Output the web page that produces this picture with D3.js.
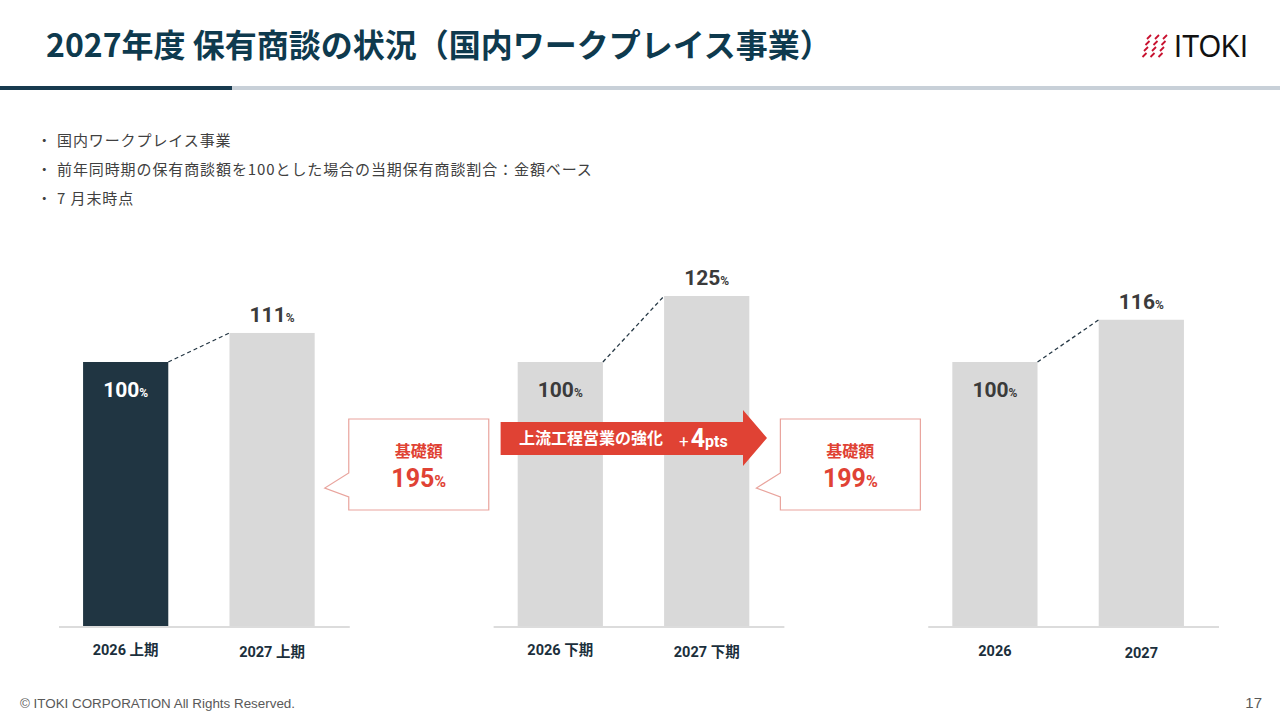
<!DOCTYPE html>
<html><head><meta charset="utf-8">
<script src="https://cdn.jsdelivr.net/npm/d3@7"></script>
<style>
html,body{margin:0;padding:0;background:#fff;}
svg{display:block;}
</style></head>
<body>
<svg id="chart" width="1280" height="720"></svg>
<script>
// ---------------- data ----------------
const titleText = "2027年度 保有商談の状況（国内ワークプレイス事業）";
const bullets = ["国内ワークプレイス事業", "前年同時期の保有商談額を100とした場合の当期保有商談割合：金額ベース", "7 月末時点"];
const groups = ["上期", "下期", "通期"];
const categories = ["2026 上期", "2027 上期", "2026 下期", "2027 下期", "2026", "2027"];
const values = [100, 111, 100, 125, 100, 116];
const groupOf = [0, 0, 1, 1, 2, 2];
const positionInGroup = [0, 1, 0, 1, 0, 1];
const calloutLabel = "基礎額";
const calloutValues = [195, 199];
const arrowLabel = "上流工程営業の強化";
const arrowValue = "4";
const arrowUnit = "pts";
const footerText = "© ITOKI CORPORATION All Rights Reserved.";
const pageNumber = "17";

// ---------------- layout ----------------
const svg = d3.select("#chart");
const CJK = "'Noto Sans CJK JP','Noto Sans',sans-serif";
const NUM = "Roboto,'Noto Sans CJK JP',sans-serif";
const RED = "#e04234";
const DARK = "#203542";
const GRAY = "#d9d9d9";

// title
svg.append("text").attr("x", 46).attr("y", 57)
  .attr("font-family", CJK).attr("font-weight", 700).attr("font-size", 32)
  .attr("fill", "#0e3a4e").text(titleText);

// header rule
svg.append("rect").attr("x", 0).attr("y", 86).attr("width", 1280).attr("height", 4).attr("fill", "#c8d0d8");
svg.append("rect").attr("x", 0).attr("y", 86).attr("width", 232).attr("height", 4).attr("fill", "#173a4f");

// logo
const logo = svg.append("g");
for (let r = 0; r < 4; r++) {
  for (let c = 0; c < 3; c++) {
    const x0 = 1147 + c * 8 - r * 1.5, y0 = 39 + r * 6;
    logo.append("line").attr("x1", x0).attr("y1", y0).attr("x2", x0 + 4).attr("y2", y0 - 4)
      .attr("stroke", "#c8102e").attr("stroke-width", 1.8);
  }
}
logo.append("text").attr("x", 1174).attr("y", 57)
  .attr("font-family", "'Liberation Sans',Arial,sans-serif").attr("font-size", 32)
  .attr("textLength", 74).attr("lengthAdjust", "spacingAndGlyphs")
  .attr("fill", "#111").text("ITOKI");

// bullets
bullets.forEach((b, i) => {
  const y = 146 + i * 29;
  svg.append("text").attr("x", 37).attr("y", y).attr("font-family", CJK).attr("font-size", 14.5).attr("fill", "#404040").text("・");
  svg.append("text").attr("x", 57).attr("y", y).attr("font-family", CJK).attr("font-size", 15)
    .attr("letter-spacing", 0.9).attr("fill", "#404040").text(b);
});

// scales
const xGroup = d3.scaleBand().domain(d3.range(groups.length)).range([59, 1219]).paddingInner(0.331).paddingOuter(0);
const xInner = d3.scaleBand().domain([0, 1]).range([0, xGroup.bandwidth()]).paddingInner(0.418).paddingOuter(0.202).align(0.407);
const y = d3.scaleLinear().domain([0, 125]).range([626, 296]);
const barX = i => xGroup(groupOf[i]) + xInner(positionInGroup[i]);
const bw = xInner.bandwidth();

// baselines
groups.forEach((g, gi) => {
  svg.append("line").attr("x1", xGroup(gi)).attr("x2", xGroup(gi) + xGroup.bandwidth())
    .attr("y1", y(0) + 1).attr("y2", y(0) + 1).attr("stroke", "#dcdcdc").attr("stroke-width", 2);
});

// bars
svg.selectAll("rect.bar").data(values).join("rect").attr("class", "bar")
  .attr("x", (d, i) => barX(i)).attr("width", bw)
  .attr("y", d => y(d)).attr("height", d => y(0) - y(d))
  .attr("fill", (d, i) => i === 0 ? DARK : GRAY);

// dashed connectors
groups.forEach((g, gi) => {
  const i0 = groupOf.indexOf(gi), i1 = i0 + 1;
  svg.append("line")
    .attr("x1", barX(i0) + bw).attr("y1", y(values[i0]))
    .attr("x2", barX(i1)).attr("y2", y(values[i1]))
    .attr("stroke", "#263845").attr("stroke-width", 1.3).attr("stroke-dasharray", "4,3");
});

// value labels
values.forEach((v, i) => {
  const first = positionInGroup[i] === 0;
  const t = svg.append("text")
    .attr("x", barX(i) + bw / 2)
    .attr("y", first ? y(v) + 35 : y(v) - 11)
    .attr("text-anchor", "middle")
    .attr("font-family", NUM).attr("font-weight", 700)
    .attr("fill", i === 0 ? "#ffffff" : "#3b3b3b");
  t.append("tspan").attr("font-size", 21).text(v);
  t.append("tspan").attr("font-size", 12).text("%");
});

// category labels
categories.forEach((c, i) => {
  svg.append("text").attr("x", barX(i) + bw / 2).attr("y", 655 + (groupOf[i] === 2 ? 1 : 0) + positionInGroup[i] * 2)
    .attr("text-anchor", "middle").attr("font-family", NUM).attr("font-weight", 700)
    .attr("font-size", 14.5).attr("fill", "#1b2f3c").text(c);
});

// callouts
const calloutShift = [-1, -4];
calloutValues.forEach((v, k) => {
  const left = xGroup(k) + xGroup.bandwidth() + calloutShift[k];
  const right = left + 140, top = 419, bottom = 510;
  const tipX = left - 24;
  const path = `M${left},${top}H${right}V${bottom}H${left}V${bottom - 13}L${tipX},${bottom - 22}L${left},${bottom - 37}Z`;
  svg.append("path").attr("d", path).attr("fill", "#fff").attr("stroke", "#e9a49d").attr("stroke-width", 1.2);
  const cx = (left + right) / 2;
  svg.append("text").attr("x", cx).attr("y", 457).attr("text-anchor", "middle")
    .attr("font-family", CJK).attr("font-weight", 700).attr("font-size", 16).attr("fill", RED).text(calloutLabel);
  const t = svg.append("text").attr("x", cx).attr("y", 487).attr("text-anchor", "middle")
    .attr("font-family", NUM).attr("font-weight", 700).attr("fill", RED);
  t.append("tspan").attr("font-size", 25).text(v);
  t.append("tspan").attr("font-size", 16).text("%");
});

// arrow
const ax0 = xGroup(1) + 7, axHead = 743, axTip = 767;
svg.append("path")
  .attr("d", `M${ax0},422H${axHead}V410L${axTip},438L${axHead},466V455H${ax0}Z`)
  .attr("fill", RED);
svg.append("text").attr("x", 519).attr("y", 444).attr("font-family", CJK).attr("font-weight", 700)
  .attr("font-size", 16).attr("fill", "#fff").text(arrowLabel);
const at = svg.append("text").attr("x", 679).attr("y", 447).attr("font-family", NUM).attr("font-weight", 700).attr("fill", "#fff");
at.append("tspan").attr("font-size", 17).attr("font-weight", 400).text("+");
at.append("tspan").attr("font-size", 25).attr("dx", 2).text(arrowValue);
at.append("tspan").attr("font-size", 16).text(arrowUnit);

// footer
svg.append("text").attr("x", 20).attr("y", 708).attr("font-family", "'Liberation Sans',Arial,sans-serif")
  .attr("font-size", 13.4).attr("fill", "#595959").text(footerText);
svg.append("text").attr("x", 1262).attr("y", 708).attr("text-anchor", "end").attr("font-family", "'Liberation Sans',Arial,sans-serif")
  .attr("font-size", 15).attr("fill", "#595959").text(pageNumber);
</script>
</body></html>
